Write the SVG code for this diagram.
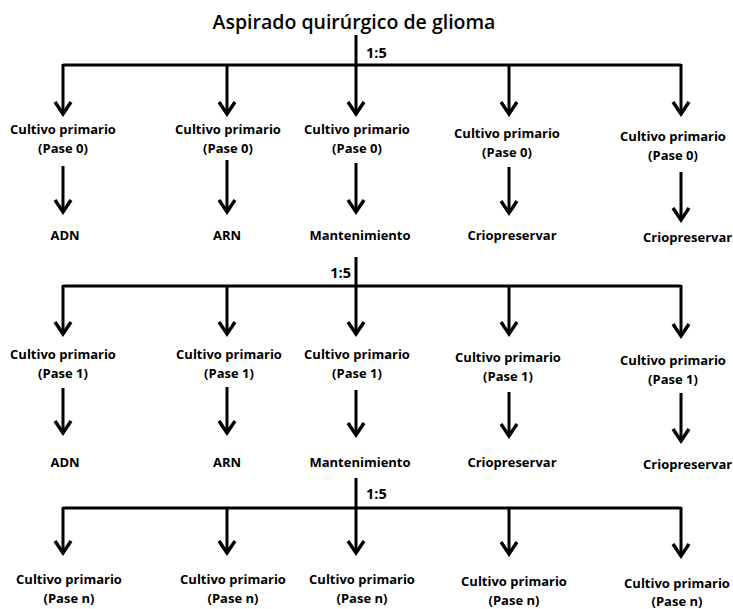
<svg xmlns="http://www.w3.org/2000/svg" width="733" height="609" viewBox="0 0 733 609">
<defs>
<style>
.t{font-family:"Open Sans","Liberation Sans",sans-serif;font-weight:700;font-size:13px;text-anchor:middle;fill:#000}
.title{font-weight:600;font-size:19.5px}
.lbl{font-family:"Open Sans","Liberation Sans",sans-serif;font-weight:700;font-size:14.5px;fill:#000}
.ln{stroke:#000;stroke-width:3;fill:none}
.ar{stroke:#000;stroke-width:3;fill:none;marker-end:url(#ah)}
</style>
<marker id="ah" markerUnits="userSpaceOnUse" viewBox="-16 -12 20 24" markerWidth="20" markerHeight="24" refX="0" refY="0" orient="auto">
<path d="M-12,-8 L0,0 L-12,8" fill="none" stroke="#000" stroke-width="3.4" stroke-linejoin="miter"/>
</marker>
</defs>
<rect width="733" height="609" fill="#fff"/>

<g id="connectors">
<path class="ln" d="M356,35 V65"/>
<path class="ln" d="M63,65 H681"/>
<path class="ar" d="M63,64 V114"/>
<path class="ar" d="M227,64 V114"/>
<path class="ar" d="M356,64 V114"/>
<path class="ar" d="M509,64 V114"/>
<path class="ar" d="M681,64 V114"/>
<path class="ar" d="M63,166 V212"/>
<path class="ar" d="M227,160 V212"/>
<path class="ar" d="M356,163 V212"/>
<path class="ar" d="M509,167 V213"/>
<path class="ar" d="M681,172 V220"/>
<path class="ln" d="M356,257 V286"/>
<path class="ln" d="M63,286 H681"/>
<path class="ar" d="M63,285 V334"/>
<path class="ar" d="M227,285 V334"/>
<path class="ar" d="M356,285 V334"/>
<path class="ar" d="M509,285 V334"/>
<path class="ar" d="M681,285 V336"/>
<path class="ar" d="M63,388 V433"/>
<path class="ar" d="M227,387 V433"/>
<path class="ar" d="M356,390 V435"/>
<path class="ar" d="M509,392 V436"/>
<path class="ar" d="M681,393 V441"/>
<path class="ln" d="M356,478 V508"/>
<path class="ln" d="M63,508 H681"/>
<path class="ar" d="M63,507 V553"/>
<path class="ar" d="M227,507 V553"/>
<path class="ar" d="M356,507 V553"/>
<path class="ar" d="M509,507 V554"/>
<path class="ar" d="M681,507 V556"/>
<text class="lbl" x="366" y="58">1:5</text>
<text class="lbl" x="351" y="278" text-anchor="end">1:5</text>
<text class="lbl" x="366" y="499">1:5</text>
</g>

<g id="title"><text class="t title" x="354" y="29">Aspirado quirúrgico de glioma</text></g>

<g id="c0-1"><text class="t" x="63" y="134">Cultivo primario</text><text class="t" x="63" y="153">(Pase 0)</text></g>
<g id="c0-2"><text class="t" x="228" y="134">Cultivo primario</text><text class="t" x="228" y="153">(Pase 0)</text></g>
<g id="c0-3"><text class="t" x="357" y="134">Cultivo primario</text><text class="t" x="357" y="153">(Pase 0)</text></g>
<g id="c0-4"><text class="t" x="507" y="138">Cultivo primario</text><text class="t" x="507" y="157">(Pase 0)</text></g>
<g id="c0-5"><text class="t" x="673" y="141">Cultivo primario</text><text class="t" x="673" y="160">(Pase 0)</text></g>

<g id="r0-1"><text class="t" x="65" y="240">ADN</text></g>
<g id="r0-2"><text class="t" x="227" y="240">ARN</text></g>
<g id="r0-3"><text class="t" x="360" y="240">Mantenimiento</text></g>
<g id="r0-4"><text class="t" x="512" y="240">Criopreservar</text></g>
<g id="r0-5"><text class="t" x="643" y="242" style="text-anchor:start">Criopreservar</text></g>

<g id="c1-1"><text class="t" x="63" y="359">Cultivo primario</text><text class="t" x="63" y="378">(Pase 1)</text></g>
<g id="c1-2"><text class="t" x="229" y="359">Cultivo primario</text><text class="t" x="229" y="378">(Pase 1)</text></g>
<g id="c1-3"><text class="t" x="357" y="359">Cultivo primario</text><text class="t" x="357" y="378">(Pase 1)</text></g>
<g id="c1-4"><text class="t" x="508" y="362">Cultivo primario</text><text class="t" x="508" y="381">(Pase 1)</text></g>
<g id="c1-5"><text class="t" x="673" y="365">Cultivo primario</text><text class="t" x="673" y="384">(Pase 1)</text></g>

<g id="r1-1"><text class="t" x="65" y="467">ADN</text></g>
<g id="r1-2"><text class="t" x="227" y="467">ARN</text></g>
<g id="r1-3"><text class="t" x="360" y="467">Mantenimiento</text></g>
<g id="r1-4"><text class="t" x="512" y="467">Criopreservar</text></g>
<g id="r1-5"><text class="t" x="643" y="469" style="text-anchor:start">Criopreservar</text></g>

<g id="cn-1"><text class="t" x="69" y="584">Cultivo primario</text><text class="t" x="69" y="603">(Pase n)</text></g>
<g id="cn-2"><text class="t" x="233" y="584">Cultivo primario</text><text class="t" x="233" y="603">(Pase n)</text></g>
<g id="cn-3"><text class="t" x="362" y="584">Cultivo primario</text><text class="t" x="362" y="603">(Pase n)</text></g>
<g id="cn-4"><text class="t" x="514" y="586">Cultivo primario</text><text class="t" x="514" y="605">(Pase n)</text></g>
<g id="cn-5"><text class="t" x="677" y="588">Cultivo primario</text><text class="t" x="677" y="606">(Pase n)</text></g>
</svg>
